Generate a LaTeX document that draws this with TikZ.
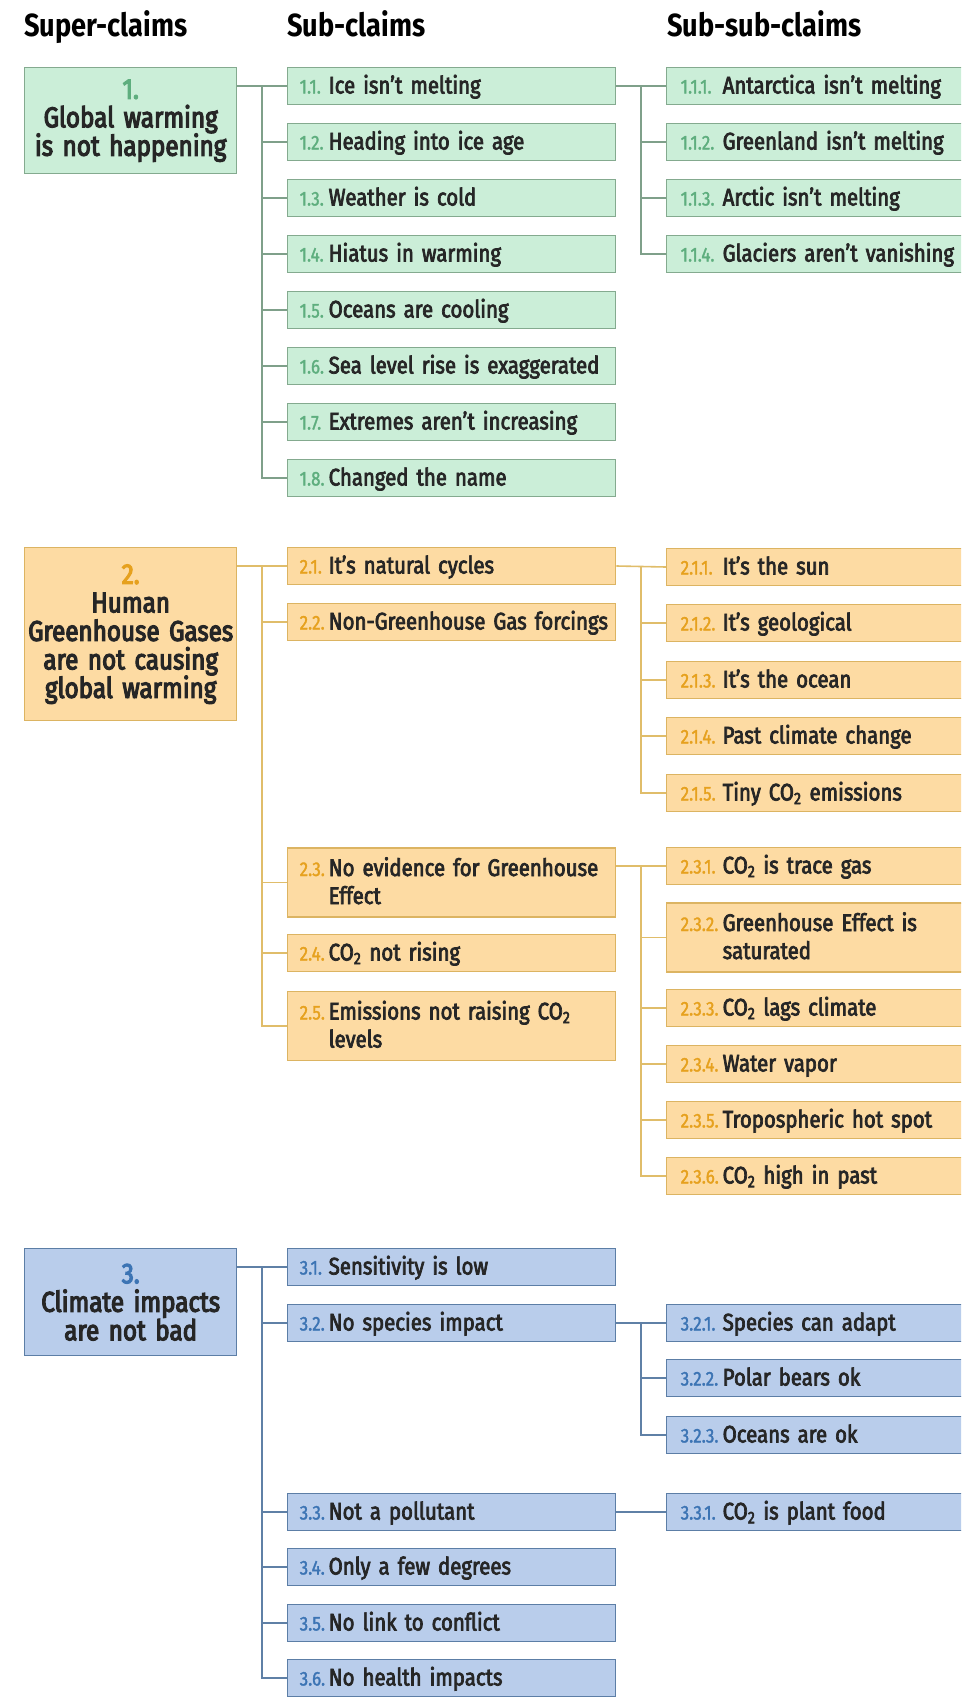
\documentclass[tikz,border=0pt]{standalone}
\usepackage{fontspec}
\setmainfont{Fira Sans}[FakeStretch=0.85]
\newfontfamily\claimfont{Fira Sans}[FakeStretch=0.85,FakeBold=3,WordSpace=0.9]
\newfontfamily\superfont{Fira Sans}[FakeStretch=0.85,FakeBold=4,WordSpace=0.9]
\newfontfamily\claimnofont{Fira Sans}[FakeStretch=0.85,FakeBold=1.5]
\usepackage{tikz}
\usetikzlibrary{positioning}

\definecolor{ink}{HTML}{262626}
\definecolor{grnfill}{HTML}{CBEED8}
\definecolor{grnbox}{HTML}{84AA8F}
\definecolor{grnline}{HTML}{7FA08A}
\definecolor{grnnum}{HTML}{5EAE7E}
\definecolor{orgfill}{HTML}{FDDBA3}
\definecolor{orgbox}{HTML}{DCB462}
\definecolor{orgline}{HTML}{E0BD6A}
\definecolor{orgnum}{HTML}{E6A11E}
\definecolor{blufill}{HTML}{B9CDEB}
\definecolor{blubox}{HTML}{5C7EA6}
\definecolor{bluline}{HTML}{5F80A6}
\definecolor{blunum}{HTML}{3C74B4}
\colorlet{numcol}{grnnum}

\newcommand{\numfont}{\claimnofont\fontsize{20}{20}\selectfont}
\newcommand{\subclm}[2]{\makebox[37pt][l]{\hspace*{8pt}\numfont\textcolor{numcol}{#1}}%
    \parbox[t]{287pt}{\raggedright\hyphenpenalty=10000 #2}}
\newcommand{\subsubclm}[2]{\makebox[52pt][l]{\hspace*{10pt}\numfont\textcolor{numcol}{#1}}%
    \parbox[t]{268pt}{\raggedright\hyphenpenalty=10000 #2}}
\newcommand{\COtwo}{CO\textsubscript{2}}

\begin{document}
\begin{tikzpicture}[x=1pt,y=-1pt]
        \tikzstyle{every node}=[inner ysep=0pt, text=ink, font=\claimfont\fontsize{24}{28}\selectfont]
        \tikzstyle{sub}=[draw, line width=1.4pt, anchor=west, text width=320pt, inner xsep=4pt,
                         minimum height=37pt, text height=20pt, text depth=5pt, align=left]
        \tikzstyle{subsub}=[sub]
        \tikzstyle{twoline}=[minimum height=69pt, text depth=33pt]
        \tikzstyle{super}=[draw, line width=1.4pt, anchor=north west, text width=210pt, inner xsep=1pt,
                           align=center, font=\superfont\fontsize{28.5}{28.5}\selectfont]
        \tikzstyle{header}=[anchor=base west, inner sep=0pt, text=black, font=\bfseries\fontsize{32}{32}\selectfont]
        \tikzstyle{grnclaim}=[fill=grnfill, draw=grnbox, execute at begin node={\colorlet{numcol}{grnnum}}]
        \tikzstyle{orgclaim}=[fill=orgfill, draw=orgbox, execute at begin node={\colorlet{numcol}{orgnum}}]
        \tikzstyle{bluclaim}=[fill=blufill, draw=blubox, execute at begin node={\colorlet{numcol}{blunum}}]
        \tikzstyle{grnlink}=[draw=grnline, line width=1.6pt]
        \tikzstyle{orglink}=[draw=orgline, line width=1.6pt]
        \tikzstyle{blulink}=[draw=bluline, line width=1.6pt]

        \useasboundingbox (0,0) rectangle (961,1697);
        \clip (0,0) rectangle (961,1697);
        \fill[white] (0,0) rectangle (961,1697);

        \coordinate (trunk)  at (262,0);
        \coordinate (branch) at (641,0);

        % column titles
        \node[header] (hsuper)  at (24,36)  {Super-claims};
        \node[header] (hsub)    at (287,36) {Sub-claims};
        \node[header] (hsubsub) at (667,36) {Sub-sub-claims};

        % 1. global warming is not happening
        \node[super, grnclaim, minimum height=106pt] (s1) at (24,67)
            {\textcolor{grnnum}{1.}\\Global warming\\is not happening};

        \node[sub, grnclaim] (c11) at (287,86)  {\subclm{1.1.}{Ice isn’t melting}};
        \node[sub, grnclaim] (c12) at (287,142) {\subclm{1.2.}{Heading into ice age}};
        \node[sub, grnclaim] (c13) at (287,198) {\subclm{1.3.}{Weather is cold}};
        \node[sub, grnclaim] (c14) at (287,254) {\subclm{1.4.}{Hiatus in warming}};
        \node[sub, grnclaim] (c15) at (287,310) {\subclm{1.5.}{Oceans are cooling}};
        \node[sub, grnclaim] (c16) at (287,366) {\subclm{1.6.}{Sea level rise is exaggerated}};
        \node[sub, grnclaim] (c17) at (287,422) {\subclm{1.7.}{Extremes aren’t increasing}};
        \node[sub, grnclaim] (c18) at (287,478) {\subclm{1.8.}{Changed the name}};

        \node[subsub, grnclaim] (c111) at (666,86)  {\subsubclm{1.1.1.}{Antarctica isn’t melting}};
        \node[subsub, grnclaim] (c112) at (666,142) {\subsubclm{1.1.2.}{Greenland isn’t melting}};
        \node[subsub, grnclaim] (c113) at (666,198) {\subsubclm{1.1.3.}{Arctic isn’t melting}};
        \node[subsub, grnclaim] (c114) at (666,254) {\subsubclm{1.1.4.}{Glaciers aren’t vanishing}};

        \draw[grnlink] (s1.east |- c11.west) -- (c11.west);
        \draw[grnlink] (trunk |- c11.west) -- (trunk |- c18.west) -- (c18.west);
        \draw[grnlink] (trunk |- c12.west) -- (c12.west);
        \draw[grnlink] (trunk |- c13.west) -- (c13.west);
        \draw[grnlink] (trunk |- c14.west) -- (c14.west);
        \draw[grnlink] (trunk |- c15.west) -- (c15.west);
        \draw[grnlink] (trunk |- c16.west) -- (c16.west);
        \draw[grnlink] (trunk |- c17.west) -- (c17.west);

        \draw[grnlink] (c11.east) -- (c111.west);
        \draw[grnlink] (branch |- c111.west) -- (branch |- c114.west) -- (c114.west);
        \draw[grnlink] (branch |- c112.west) -- (c112.west);
        \draw[grnlink] (branch |- c113.west) -- (c113.west);

        % 2. human greenhouse gases are not causing global warming
        \node[super, orgclaim, minimum height=173pt] (s2) at (24,547)
            {\textcolor{orgnum}{2.}\\Human\\Greenhouse Gases\\are not causing\\global warming};

        \node[sub, orgclaim] (c21) at (287,566)  {\subclm{2.1.}{It’s natural cycles}};
        \node[sub, orgclaim] (c22) at (287,622)  {\subclm{2.2.}{Non-Greenhouse Gas forcings}};
        \node[sub, orgclaim, twoline] (c23) at (287,882.5) {\subclm{2.3.}{No evidence for Greenhouse\\Effect}};
        \node[sub, orgclaim] (c24) at (287,953)  {\subclm{2.4.}{\COtwo{} not rising}};
        \node[sub, orgclaim, twoline] (c25) at (287,1026) {\subclm{2.5.}{Emissions not raising \COtwo\\levels}};

        \node[subsub, orgclaim] (c211) at (666,567) {\subsubclm{2.1.1.}{It’s the sun}};
        \node[subsub, orgclaim] (c212) at (666,623) {\subsubclm{2.1.2.}{It’s geological}};
        \node[subsub, orgclaim] (c213) at (666,680) {\subsubclm{2.1.3.}{It’s the ocean}};
        \node[subsub, orgclaim] (c214) at (666,736) {\subsubclm{2.1.4.}{Past climate change}};
        \node[subsub, orgclaim] (c215) at (666,793) {\subsubclm{2.1.5.}{Tiny \COtwo{} emissions}};

        \node[subsub, orgclaim] (c231) at (666,866)  {\subsubclm{2.3.1.}{\COtwo{} is trace gas}};
        \node[subsub, orgclaim, twoline] (c232) at (666,937.5) {\subsubclm{2.3.2.}{Greenhouse Effect is\\saturated}};
        \node[subsub, orgclaim] (c233) at (666,1008) {\subsubclm{2.3.3.}{\COtwo{} lags climate}};
        \node[subsub, orgclaim] (c234) at (666,1064) {\subsubclm{2.3.4.}{Water vapor}};
        \node[subsub, orgclaim] (c235) at (666,1120) {\subsubclm{2.3.5.}{Tropospheric hot spot}};
        \node[subsub, orgclaim] (c236) at (666,1176) {\subsubclm{2.3.6.}{\COtwo{} high in past}};

        \draw[orglink] (s2.east |- c21.west) -- (c21.west);
        \draw[orglink] (trunk |- c21.west) -- (trunk |- c25.west) -- (c25.west);
        \draw[orglink] (trunk |- c22.west) -- (c22.west);
        \draw[orglink] (trunk |- c23.west) -- (c23.west);
        \draw[orglink] (trunk |- c24.west) -- (c24.west);

        \draw[orglink] (c21.east) -- (c211.west);
        \draw[orglink] (branch |- c211.west) -- (branch |- c215.west) -- (c215.west);
        \draw[orglink] (branch |- c212.west) -- (c212.west);
        \draw[orglink] (branch |- c213.west) -- (c213.west);
        \draw[orglink] (branch |- c214.west) -- (c214.west);

        \draw[orglink] (c23.east |- c231.west) -- (c231.west);
        \draw[orglink] (branch |- c231.west) -- (branch |- c236.west) -- (c236.west);
        \draw[orglink] (branch |- c232.west) -- (c232.west);
        \draw[orglink] (branch |- c233.west) -- (c233.west);
        \draw[orglink] (branch |- c234.west) -- (c234.west);
        \draw[orglink] (branch |- c235.west) -- (c235.west);

        % 3. climate impacts are not bad
        \node[super, bluclaim, minimum height=107pt] (s3) at (24,1248)
            {\textcolor{blunum}{3.}\\Climate impacts\\are not bad};

        \node[sub, bluclaim] (c31) at (287,1267) {\subclm{3.1.}{Sensitivity is low}};
        \node[sub, bluclaim] (c32) at (287,1323) {\subclm{3.2.}{No species impact}};
        \node[sub, bluclaim] (c33) at (287,1512) {\subclm{3.3.}{Not a pollutant}};
        \node[sub, bluclaim] (c34) at (287,1567) {\subclm{3.4.}{Only a few degrees}};
        \node[sub, bluclaim] (c35) at (287,1623) {\subclm{3.5.}{No link to conflict}};
        \node[sub, bluclaim] (c36) at (287,1678) {\subclm{3.6.}{No health impacts}};

        \node[subsub, bluclaim] (c321) at (666,1323) {\subsubclm{3.2.1.}{Species can adapt}};
        \node[subsub, bluclaim] (c322) at (666,1378) {\subsubclm{3.2.2.}{Polar bears ok}};
        \node[subsub, bluclaim] (c323) at (666,1435) {\subsubclm{3.2.3.}{Oceans are ok}};
        \node[subsub, bluclaim] (c331) at (666,1512) {\subsubclm{3.3.1.}{\COtwo{} is plant food}};

        \draw[blulink] (s3.east |- c31.west) -- (c31.west);
        \draw[blulink] (trunk |- c31.west) -- (trunk |- c36.west) -- (c36.west);
        \draw[blulink] (trunk |- c32.west) -- (c32.west);
        \draw[blulink] (trunk |- c33.west) -- (c33.west);
        \draw[blulink] (trunk |- c34.west) -- (c34.west);
        \draw[blulink] (trunk |- c35.west) -- (c35.west);

        \draw[blulink] (c32.east) -- (c321.west);
        \draw[blulink] (branch |- c321.west) -- (branch |- c323.west) -- (c323.west);
        \draw[blulink] (branch |- c322.west) -- (c322.west);
        \draw[blulink] (c33.east) -- (c331.west);
\end{tikzpicture}
\end{document}
